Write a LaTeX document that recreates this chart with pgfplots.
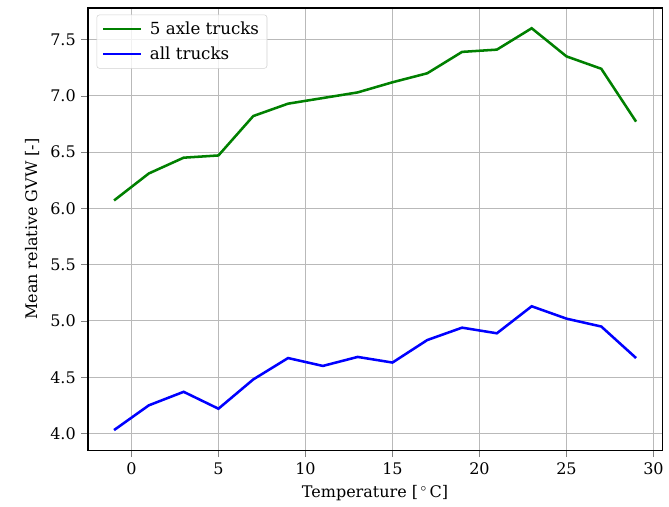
\documentclass[border=0pt]{standalone}
\usepackage{fontspec}
\setmainfont{DejaVu Serif}
\usepackage{pgfplots}
\pgfplotsset{compat=1.18}

\begin{document}
\fontsize{12}{14}\selectfont
\begin{tikzpicture}
\begin{axis}[
    scale only axis,
    width=431pt,
    height=332pt,
    xmin=-2.5, xmax=30.5,
    ymin=3.85, ymax=7.78,
    xtick={0,5,...,30},
    ytick={4.0,4.5,...,7.5},
    yticklabel style={/pgf/number format/.cd,fixed,fixed zerofill,precision=1},
    /pgf/number format/assume math mode=true,
    tick align=outside,
    xtick pos=bottom, ytick pos=left,
    major tick length=5pt,
    grid=major,
    grid style={gray!55, line width=0.8pt},
    axis line style={line width=0.9pt},
    xlabel={Temperature [\,$^\circ$\,C]},
    ylabel={Mean relative GVW [-]},
    legend cell align=left,
    legend image code/.code={\draw[#1] (0pt,0pt) -- (28pt,0pt);},
    legend style={at={(0.015,0.985)}, anchor=north west, draw=gray!35,
        rounded corners=2pt, fill=white, fill opacity=0.8, text opacity=1,
        inner xsep=4pt, inner ysep=3pt, row sep=3.5pt, column sep=4pt,
        font=\fontsize{12.5}{15}\selectfont},
]
\addplot[line width=1.9pt, color={rgb,255:red,0;green,128;blue,0}] coordinates {
    (-1,6.07) (1,6.31) (3,6.45) (5,6.47) (7,6.82) (9,6.93) (11,6.98) (13,7.03)
    (15,7.12) (17,7.20) (19,7.39) (21,7.41) (23,7.60) (25,7.35) (27,7.24) (29,6.77)
};
\addplot[line width=1.9pt, color=blue] coordinates {
    (-1,4.03) (1,4.25) (3,4.37) (5,4.22) (7,4.48) (9,4.67) (11,4.60) (13,4.68)
    (15,4.63) (17,4.83) (19,4.94) (21,4.89) (23,5.13) (25,5.02) (27,4.95) (29,4.67)
};
\legend{5 axle trucks, all trucks}
\end{axis}
\path (current axis.south west) ++(-66pt,-41pt) coordinate (bbsw);
\path (current axis.north east) ++(4.5pt,6pt) coordinate (bbne);
\path (bbsw) rectangle (bbne);
\end{tikzpicture}
\end{document}
